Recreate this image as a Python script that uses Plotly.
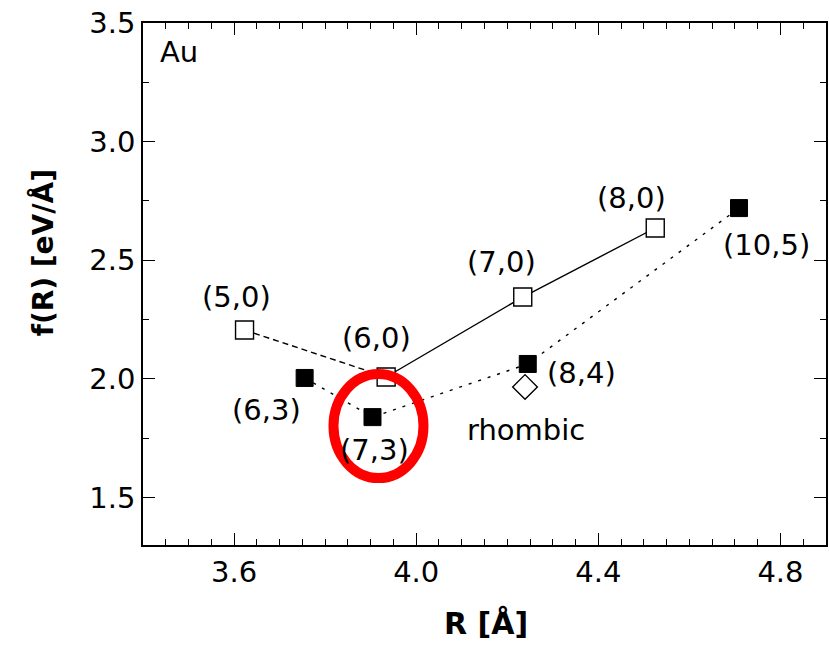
import plotly.graph_objects as go

# ---- data ----
zigzag_labels = ["(5,0)", "(6,0)", "(7,0)", "(8,0)"]
zigzag_R = [3.623, 3.934, 4.234, 4.525]
zigzag_f = [2.206, 2.008, 2.345, 2.636]

chiral_labels = ["(6,3)", "(7,3)", "(8,4)", "(10,5)"]
chiral_R = [3.755, 3.904, 4.245, 4.709]
chiral_f = [2.004, 1.839, 2.063, 2.720]

rhombic_label = "rhombic"
rhombic_R = [4.239]
rhombic_f = [1.966]

x_ticks = [3.6, 4.0, 4.4, 4.8]
y_ticks = [1.5, 2.0, 2.5, 3.0, 3.5]

FONT = "DejaVu Sans"
LABEL_SIZE = 29
fig = go.Figure()

# zigzag: dashed (5,0)-(6,0), solid (6,0)-(8,0)
fig.add_trace(go.Scatter(x=zigzag_R[:2], y=zigzag_f[:2], mode="lines",
                         line=dict(color="black", width=1.4, dash="6px,4px"),
                         showlegend=False, hoverinfo="skip"))
fig.add_trace(go.Scatter(x=zigzag_R[1:], y=zigzag_f[1:], mode="lines",
                         line=dict(color="black", width=1.4),
                         showlegend=False, hoverinfo="skip"))
# chiral: dotted line
fig.add_trace(go.Scatter(x=chiral_R, y=chiral_f, mode="lines",
                         line=dict(color="black", width=1.4, dash="3px,7px"),
                         showlegend=False, hoverinfo="skip"))
# markers
fig.add_trace(go.Scatter(x=zigzag_R, y=zigzag_f, mode="markers",
                         marker=dict(symbol="square", size=18, color="white",
                                     line=dict(color="black", width=1.4)),
                         showlegend=False))
fig.add_trace(go.Scatter(x=chiral_R, y=chiral_f, mode="markers",
                         marker=dict(symbol="square", size=17, color="black",
                                     line=dict(color="black", width=1)),
                         showlegend=False))
fig.add_trace(go.Scatter(x=rhombic_R, y=rhombic_f, mode="markers",
                         marker=dict(symbol="diamond", size=19, color="white",
                                     line=dict(color="black", width=1.4)),
                         showlegend=False))

# label offsets in pixels (xshift, yshift)
zig_off = [(-8, 33), (-10, 39), (-21, 35), (-24, 30)]
chi_off = [(-38, -32), (2, -33), (54, -9), (27, -37)]
annots = []
for lab, xv, yv, (dx, dy) in zip(zigzag_labels, zigzag_R, zigzag_f, zig_off):
    annots.append(dict(x=xv, y=yv, text=lab, showarrow=False, xshift=dx, yshift=dy,
                       font=dict(family=FONT, size=LABEL_SIZE, color="black")))
for lab, xv, yv, (dx, dy) in zip(chiral_labels, chiral_R, chiral_f, chi_off):
    annots.append(dict(x=xv, y=yv, text=lab, showarrow=False, xshift=dx, yshift=dy,
                       font=dict(family=FONT, size=LABEL_SIZE, color="black")))
annots.append(dict(x=rhombic_R[0], y=rhombic_f[0], text=rhombic_label, showarrow=False,
                   xshift=1, yshift=-43, font=dict(family=FONT, size=29, color="black")))
annots.append(dict(x=0.053, y=0.945, xref="paper", yref="paper", text="Au", showarrow=False,
                   xanchor="center", yanchor="middle",
                   font=dict(family=FONT, size=29, color="black")))
# axis titles
annots.append(dict(x=-0.147, y=0.56, xref="paper", yref="paper", text="<b>f(R) [eV/Å]</b>",
                   textangle=-90, showarrow=False, xanchor="center", yanchor="middle",
                   font=dict(family=FONT, size=28, color="black")))
annots.append(dict(x=0.502, y=-0.149, xref="paper", yref="paper", text="<b>R [Å]</b>",
                   showarrow=False, xanchor="center", yanchor="middle",
                   font=dict(family=FONT, size=30, color="black")))

# red highlight ellipse around (7,3)
fig.add_shape(type="circle", xref="x", yref="y",
              xsizemode="pixel", ysizemode="pixel",
              xanchor=chiral_R[1], yanchor=chiral_f[1],
              x0=-39, x1=51, y0=-61, y1=43,
              line=dict(color="#ff0000", width=10))

axis_common = dict(showline=True, linecolor="black", linewidth=1.5, mirror="ticks",
                   ticks="inside", ticklen=12, tickwidth=1.4, tickcolor="black",
                   showgrid=False, zeroline=False,
                   tickfont=dict(family=FONT, size=29, color="black"))
fig.update_xaxes(range=[3.4, 4.9], tickvals=x_ticks,
                 ticktext=[f"{v:.1f}" for v in x_ticks],
                 minor=dict(dtick=0.05, tick0=3.6, ticks="inside", ticklen=6,
                            tickwidth=1.2, tickcolor="black", showgrid=False),
                 **axis_common)
fig.update_yaxes(range=[1.3, 3.5], tickvals=y_ticks,
                 ticktext=[f"{v:.1f}" for v in y_ticks],
                 minor=dict(dtick=0.25, tick0=1.5, ticks="inside", ticklen=6,
                            tickwidth=1.2, tickcolor="black", showgrid=False),
                 **axis_common)

fig.update_layout(width=829, height=645, margin=dict(l=143, r=1, t=23, b=100),
                  paper_bgcolor="white", plot_bgcolor="white",
                  annotations=annots, showlegend=False)
fig.write_html("out.html")
